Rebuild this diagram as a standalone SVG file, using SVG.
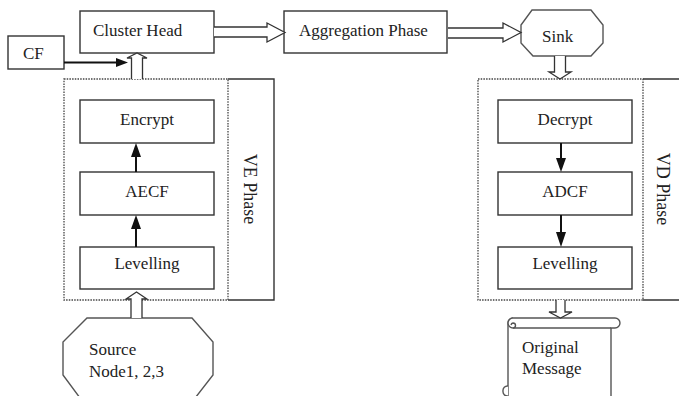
<svg xmlns="http://www.w3.org/2000/svg" width="679" height="396" viewBox="0 0 679 396">
<style>
.bx{fill:#fff;stroke:#333;stroke-width:1.4}
.sh{fill:#fff;stroke:#555;stroke-width:1.4}
.dot{fill:none;stroke:#444;stroke-width:1.3;stroke-dasharray:1.5 1.2}
.ph{fill:none;stroke:#333;stroke-width:1.4}
.ha{fill:#fff;stroke:#333;stroke-width:1.3;stroke-linejoin:miter}
.ln{stroke:#111;stroke-width:2;fill:none}
.hd{fill:#111}
text{font-family:"Liberation Serif","Times New Roman",serif;font-size:17px;fill:#222}
.c{text-anchor:middle}
.v{font-size:18px;text-anchor:middle}
</style>
<rect width="679" height="396" fill="#fff"/>

<g id="ve-group">
<path class="ph" d="M228,79 H274 V300 H228"/>
<rect class="dot" x="64" y="79" width="164" height="221"/>
<text class="v" transform="translate(244,189) rotate(90)">VE Phase</text>
</g>
<g id="vd-group">
<path class="ph" d="M643,79 H680 M643,300 H680"/>
<rect class="dot" x="478" y="79" width="165" height="221"/>
<text class="v" transform="translate(657,189) rotate(90)">VD Phase</text>
</g>

<g id="cluster-head"><rect class="bx" x="80" y="11" width="134" height="42"/><text x="93" y="36">Cluster Head</text></g>
<g id="cf"><rect class="bx" x="8" y="36" width="56" height="33"/><text x="23" y="59">CF</text></g>
<g id="aggregation"><rect class="bx" x="284" y="11" width="163" height="42"/><text x="299" y="36">Aggregation Phase</text></g>
<g id="sink"><polygon class="sh" points="532,10 591,10 603,25 603,43 591,56 533,56 521,43 521,25"/><text x="542" y="42">Sink</text></g>

<g id="encrypt"><rect class="bx" x="80" y="100" width="134" height="43"/><text class="c" x="147" y="125">Encrypt</text></g>
<g id="aecf"><rect class="bx" x="80" y="172" width="134" height="43"/><text class="c" x="147" y="197">AECF</text></g>
<g id="levelling-ve"><rect class="bx" x="80" y="247" width="134" height="42"/><text class="c" x="147" y="269">Levelling</text></g>

<g id="decrypt"><rect class="bx" x="498" y="100" width="134" height="43"/><text class="c" x="565" y="125">Decrypt</text></g>
<g id="adcf"><rect class="bx" x="498" y="172" width="134" height="43"/><text class="c" x="565" y="197">ADCF</text></g>
<g id="levelling-vd"><rect class="bx" x="498" y="247" width="134" height="42"/><text class="c" x="565" y="269">Levelling</text></g>

<g id="source"><polygon class="sh" points="87,318 192,318 213,342 213,375 192,402 83,402 63,375 63,342"/>
<text x="89" y="355">Source</text><text x="89" y="377">Node1, 2,3</text></g>

<g id="original-message">
<path class="sh" d="M508,400 V323 A5,5 0 0 1 513,318 H615 A5,5 0 0 1 615,328 H611 V400"/>
<path class="sh" d="M513,328 H611"/>
<path class="sh" fill="none" d="M513,318 A5,5 0 0 0 513,328 M513,328 A2.5,2.5 0 0 0 513,323 A2.5,2.5 0 0 0 511,325"/>
<path class="sh" fill="none" d="M508,386 A4.5,4.5 0 0 0 503,391 A4.5,4.5 0 0 0 508,396"/>
<text x="522" y="353">Original</text><text x="522" y="374">Message</text>
</g>

<g id="connectors">
<path class="ha" d="M214,27 H267 V23 L285,32.5 L267,42 V37 H214"/>
<path class="ha" d="M448,28 H503 V23 L521,32.5 L503,42 V38 H448"/>
<path class="ha" d="M131.5,79 V58 H127 L137,53 L147,58 H142.5 V79"/>
<path class="ha" d="M554.5,56 V72 H549 L560,79 L571,72 H565.5 V56"/>
<path class="ha" d="M556,300 V312 H549 L560.5,318 L572,312 H565 V300"/>
<path class="ha" d="M131,318 V299 H126 L136.5,292 L147,299 H142 V318"/>
<line class="ln" x1="64" y1="62.5" x2="118" y2="62.5"/><polygon class="hd" points="116,58 128,62.5 116,67"/>
<line class="ln" x1="136" y1="172" x2="136" y2="155"/><polygon class="hd" points="131,157 136,143 141,157"/>
<line class="ln" x1="136" y1="247" x2="136" y2="227"/><polygon class="hd" points="131,229 136,215 141,229"/>
<line class="ln" x1="561" y1="143" x2="561" y2="160"/><polygon class="hd" points="556,158 566,158 561,172"/>
<line class="ln" x1="561" y1="215" x2="561" y2="234"/><polygon class="hd" points="556,232 566,232 561,247"/>
</g>
</svg>
